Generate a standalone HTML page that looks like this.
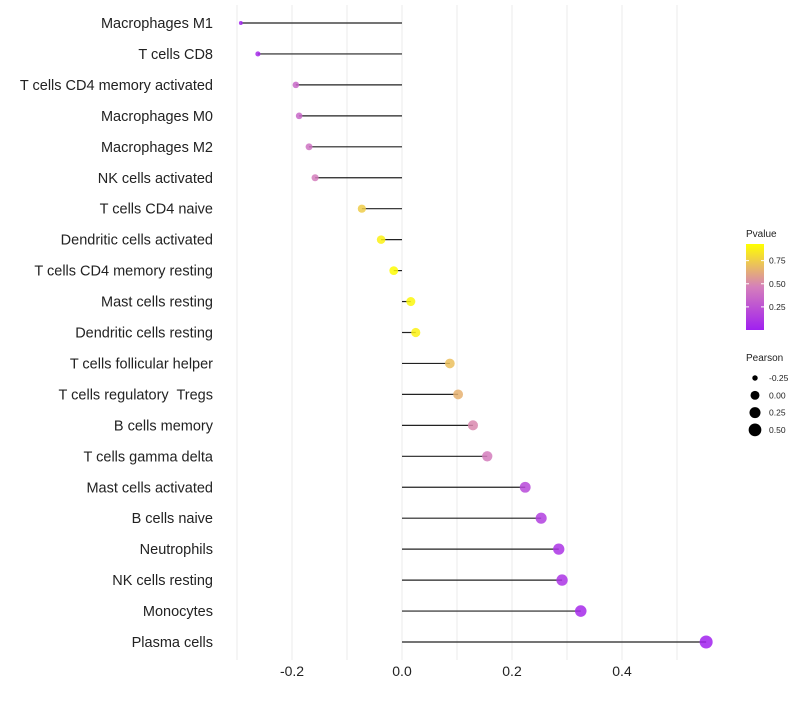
<!DOCTYPE html>
<html><head><meta charset="utf-8"><style>
body{margin:0;background:#fff;font-family:"Liberation Sans",sans-serif}
</style></head><body>
<svg id="chart" width="800" height="700" xmlns="http://www.w3.org/2000/svg" font-family="Liberation Sans, sans-serif"></svg>
<script>
const categories=["Macrophages M1","T cells CD8","T cells CD4 memory activated","Macrophages M0","Macrophages M2","NK cells activated","T cells CD4 naive","Dendritic cells activated","T cells CD4 memory resting","Mast cells resting","Dendritic cells resting","T cells follicular helper","T cells regulatory  Tregs","B cells memory","T cells gamma delta","Mast cells activated","B cells naive","Neutrophils","NK cells resting","Monocytes","Plasma cells"];
const pearson=[-0.293,-0.262,-0.193,-0.187,-0.169,-0.158,-0.073,-0.038,-0.015,0.016,0.025,0.087,0.102,0.129,0.155,0.224,0.253,0.285,0.291,0.325,0.553];
const pvalues=[0.02,0.05,0.35,0.35,0.4,0.45,0.75,0.88,0.92,0.9,0.88,0.7,0.65,0.5,0.45,0.2,0.15,0.1,0.1,0.05,0.01];
const xTicks=[-0.2,0,0.2,0.4];
const xTickLabels=["-0.2","0.0","0.2","0.4"];
const gridVals=[-0.3,-0.2,-0.1,0,0.1,0.2,0.3,0.4,0.5];
const pTicks=[0.25,0.5,0.75];
const sizeTicks=[-0.25,0,0.25,0.5];

const svg=document.getElementById('chart');
const NS='http://www.w3.org/2000/svg';
const x=v=>402+v*550;
const y=i=>23+i*30.95;
const r=v=>1.5+5*Math.pow(Math.max(0,(v+0.3)/0.85),0.5);
const cy=p=>330-p/0.93*86;
function col(p){
  const s=[[0,[160,32,240]],[0.47,[214,128,186]],[0.93,[255,255,0]]];
  p=Math.max(0,Math.min(0.93,p));
  for(let k=0;k<s.length-1;k++){if(p<=s[k+1][0]){const t=(p-s[k][0])/(s[k+1][0]-s[k][0]);const a=s[k][1],b=s[k+1][1];return `rgb(${a.map((c,j)=>Math.round(c+(b[j]-c)*t)).join(',')})`;}}
  return 'rgb(255,255,0)';
}
function mk(tag,attrs,parent){const e=document.createElementNS(NS,tag);for(const k in attrs)e.setAttribute(k,attrs[k]);(parent||svg).appendChild(e);return e;}

gridVals.forEach(v=>{
  const g=mk('line',{x1:x(v),x2:x(v),y1:5,y2:660,stroke:'#ebebeb','stroke-width':1});
  
  
});
xTicks.forEach((v,i)=>{
  const t=mk('text',{x:x(v),y:676,'text-anchor':'middle','font-size':14,fill:'#222'});
  t.textContent=xTickLabels[i];
  
  
});
categories.forEach((c,i)=>{
  const t=mk('text',{x:213,y:y(i)+5,'text-anchor':'end','font-size':14.5,fill:'#222'});
  t.setAttributeNS('http://www.w3.org/XML/1998/namespace','xml:space','preserve');
  t.style.whiteSpace='pre';
  t.textContent=c;
  
  
  const l=mk('line',{x1:x(0),x2:x(pearson[i]),y1:y(i),y2:y(i),stroke:'#222','stroke-width':1.2});
  
  
  const d=mk('circle',{cx:x(pearson[i]),cy:y(i),r:r(pearson[i]),fill:col(pvalues[i]),'fill-opacity':0.85});
  
  
});
const defs=mk('defs',{});
const lg=mk('linearGradient',{id:'pg',x1:0,y1:1,x2:0,y2:0},defs);
[0,0.25,0.5,0.75,1].forEach(f=>mk('stop',{offset:f,'stop-color':col(f*0.93)},lg));
const lt=mk('text',{x:746,y:237,'font-size':10,fill:'#222'});lt.textContent='Pvalue';


const bar=mk('rect',{x:746,y:244,width:18,height:86,fill:'url(#pg)'});


pTicks.forEach(p=>{
  mk('line',{x1:746,x2:749,y1:cy(p),y2:cy(p),stroke:'#fff'});
  mk('line',{x1:761,x2:764,y1:cy(p),y2:cy(p),stroke:'#fff'});
  const t=mk('text',{x:769,y:cy(p)+3,'font-size':8.5,fill:'#222'});t.textContent=p.toFixed(2);
  
  
});
const st=mk('text',{x:746,y:361,'font-size':10,fill:'#222'});st.textContent='Pearson';


sizeTicks.forEach((v,i)=>{
  const yy=378+i*17.3;
  const c=mk('circle',{cx:755,cy:yy,r:r(v),fill:'#000'});
  
  
  const t=mk('text',{x:769,y:yy+3,'font-size':8.5,fill:'#222'});t.textContent=v.toFixed(2);
  
  
});
</script>
</body></html>
